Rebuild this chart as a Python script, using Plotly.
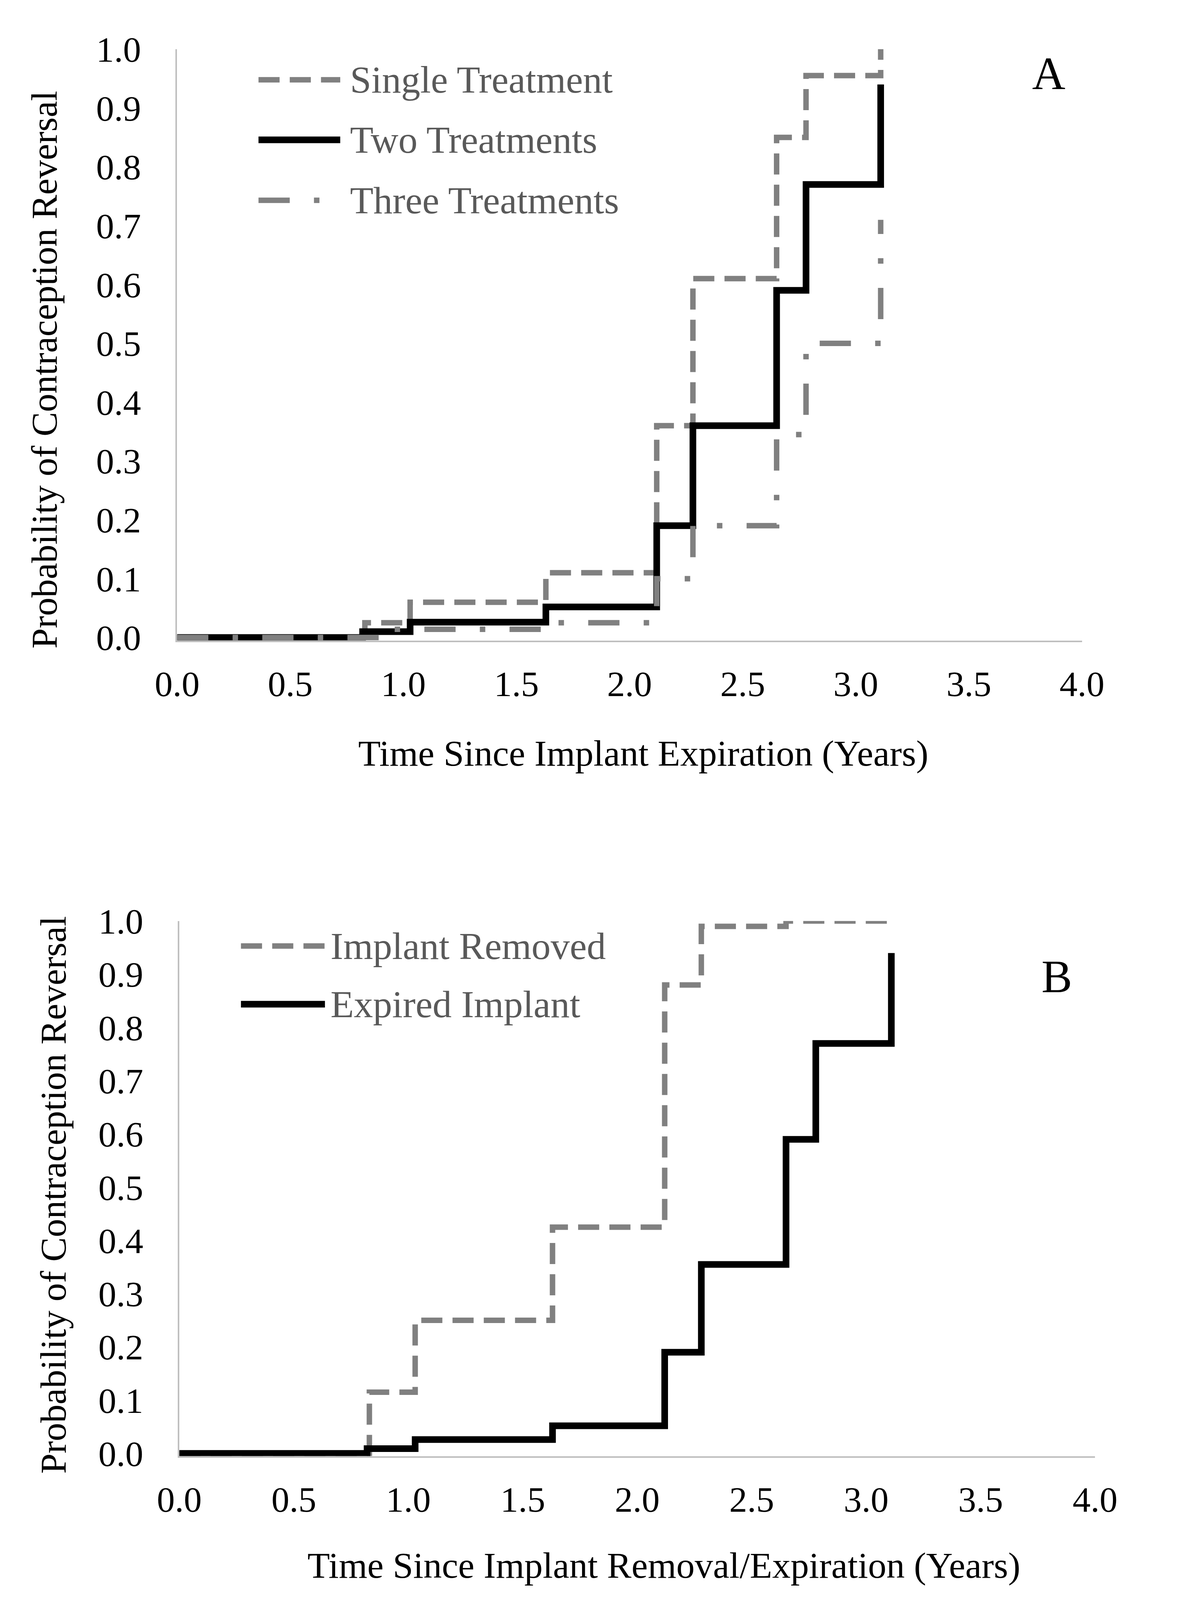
import plotly.graph_objects as go

# ---------------- data ----------------
# Panel A: cumulative probability of contraception reversal
single_t = [0.0, 0.83, 1.03, 1.63, 2.12, 2.28, 2.65, 2.78, 3.11]
single_p = [0.0, 0.025, 0.06, 0.11, 0.36, 0.61, 0.85, 0.955, 1.0]

two_t = [0.0, 0.82, 1.03, 1.63, 2.12, 2.28, 2.65, 2.78, 3.11]
two_p = [0.0, 0.01, 0.026, 0.052, 0.19, 0.36, 0.59, 0.77, 0.94]

three_t = [0.0, 0.94, 1.63, 2.12, 2.28, 2.65, 2.78, 3.11]
three_p = [0.0, 0.014, 0.025, 0.10, 0.19, 0.345, 0.50, 0.71]

# Panel B
removed_t = [0.0, 0.83, 1.03, 1.63, 2.12, 2.28, 2.65, 3.10]
removed_p = [0.0, 0.115, 0.25, 0.425, 0.88, 0.99, 1.0, 1.0]

expired_t = [0.0, 0.82, 1.03, 1.63, 2.12, 2.28, 2.65, 2.78, 3.11]
expired_p = [0.0, 0.009, 0.026, 0.052, 0.19, 0.355, 0.59, 0.77, 0.94]

x_ticks = [0.0, 0.5, 1.0, 1.5, 2.0, 2.5, 3.0, 3.5, 4.0]
y_ticks = [0.0, 0.1, 0.2, 0.3, 0.4, 0.5, 0.6, 0.7, 0.8, 0.9, 1.0]

labels_A = ["Single Treatment", "Two Treatments", "Three Treatments"]
labels_B = ["Implant Removed", "Expired Implant"]
xtitle_A = "Time Since Implant Expiration (Years)"
xtitle_B = "Time Since Implant Removal/Expiration (Years)"
ytitle = "Probability of Contraception Reversal"

# ---------------- styles ----------------
W, H = 3036, 4292
FONT = "Liberation Serif"
GRAY = "#808080"
BLACK = "#000000"
DASH = "54px,26px"
DASHDOT = "80px,62px,14px,62px"
style_A = [
    dict(color=GRAY, width=14, dash=DASH),
    dict(color=BLACK, width=17, dash="solid"),
    dict(color=GRAY, width=14, dash=DASHDOT),
]
style_B = [
    dict(color=GRAY, width=14, dash=DASH),
    dict(color=BLACK, width=17, dash="solid"),
]


# layout calibration: reference pixel -> page pixel
def px_x(p):
    return (p * 0.9936 - 68.2) / W


def px_y(p):
    return 1 - (p * 0.9767 - 61.5) / H


YMIN = -0.005
# Panel A plot box (reference pixels)
A_left, A_right, A_top, A_zero = 474, 2898, 134, 1711
A_bottom = A_zero + (0 - YMIN) * (A_zero - A_top)
# Panel B plot box (reference pixels)
B_left, B_right, B_top, B_zero = 480, 2933, 2471, 3898
B_bottom = B_zero + (0 - YMIN) * (B_zero - B_top)

fig = go.Figure()

for t, p, name, st in zip([single_t, two_t, three_t], [single_p, two_p, three_p], labels_A, style_A):
    fig.add_trace(go.Scatter(x=t, y=p, mode="lines", line_shape="hv", name=name,
                             line=st, xaxis="x", yaxis="y", showlegend=False))

for t, p, name, st in zip([removed_t, expired_t], [removed_p, expired_p], labels_B, style_B):
    fig.add_trace(go.Scatter(x=t, y=p, mode="lines", line_shape="hv", name=name,
                             line=st, xaxis="x2", yaxis="y2", showlegend=False))

axis_common = dict(showgrid=False, zeroline=False, showline=True, linecolor="#BFBFBF",
                   linewidth=4, ticks="outside", tickcolor="rgba(0,0,0,0)",
                   tickfont=dict(family=FONT, size=92, color="#000000"), mirror=False)

fig.update_layout(
    width=W, height=H, margin=dict(l=0, r=0, t=0, b=0),
    paper_bgcolor="white", plot_bgcolor="white", showlegend=False,
    xaxis=dict(domain=[px_x(A_left), px_x(A_right)], range=[0, 4], tickvals=x_ticks,
               tickformat=".1f", ticklen=28, anchor="y", **axis_common),
    yaxis=dict(domain=[px_y(A_bottom), px_y(A_top)], range=[YMIN, 1.0], tickvals=y_ticks,
               tickformat=".1f", ticklen=70, anchor="x", **axis_common),
    xaxis2=dict(domain=[px_x(B_left), px_x(B_right)], range=[0, 4], tickvals=x_ticks,
                tickformat=".1f", ticklen=28, anchor="y2", **axis_common),
    yaxis2=dict(domain=[px_y(B_bottom), px_y(B_top)], range=[YMIN, 1.0], tickvals=y_ticks,
                tickformat=".1f", ticklen=70, anchor="x2", **axis_common),
)

annotations = []
shapes = []


def add_text(x, y, text, size, color=BLACK, xanchor="center", angle=0):
    annotations.append(dict(x=px_x(x), y=px_y(y), xref="paper", yref="paper", text=text,
                            showarrow=False, xanchor=xanchor, yanchor="middle",
                            textangle=angle,
                            font=dict(family=FONT, size=size, color=color)))


# axis titles
add_text(1723, 2021, xtitle_A, 94)
add_text(118, 993, ytitle, 94, angle=-90)
add_text(1778, 4198, xtitle_B, 94)
add_text(142, 3205, ytitle, 94, angle=-90)

# panel letters
add_text(2809, 200, "A", 118)
add_text(2831, 2620, "B", 118)

# legends (drawn manually to reproduce the long sample lines)
legA_rows = [216, 377, 539]
for lab, st, yy in zip(labels_A, style_A, legA_rows):
    shapes.append(dict(type="line", xref="paper", yref="paper",
                       x0=px_x(692), x1=px_x(911), y0=px_y(yy), y1=px_y(yy),
                       line=dict(color=st["color"], width=st["width"], dash=st["dash"])))
    add_text(935, yy, lab, 98, color="#595959", xanchor="left")

legB_rows = [2538, 2694]
for lab, st, yy in zip(labels_B, style_B, legB_rows):
    shapes.append(dict(type="line", xref="paper", yref="paper",
                       x0=px_x(645), x1=px_x(870), y0=px_y(yy), y1=px_y(yy),
                       line=dict(color=st["color"], width=st["width"], dash=st["dash"])))
    add_text(883, yy, lab, 98, color="#595959", xanchor="left")

fig.update_layout(annotations=annotations, shapes=shapes)

fig.write_html("out.html")
